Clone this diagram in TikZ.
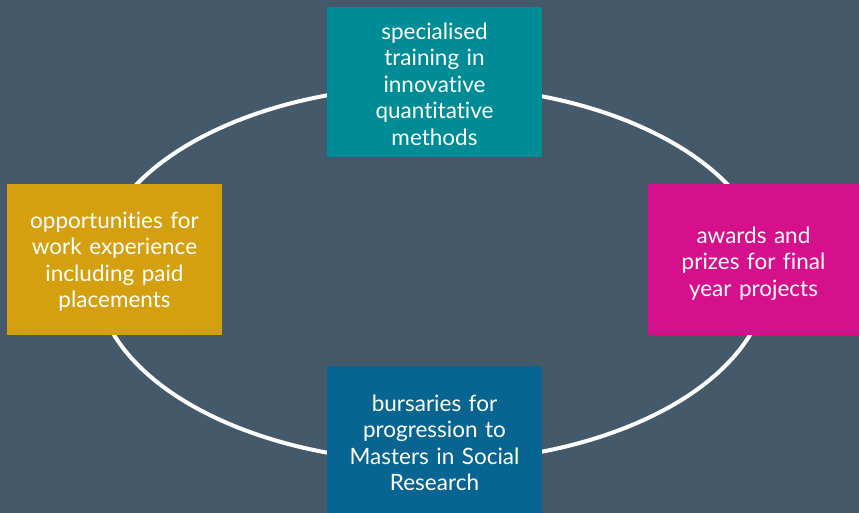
\documentclass[tikz,border=0pt]{standalone}
\usepackage{fontspec}
\setmainfont{Lato}[Ligatures={NoCommon}]
\definecolor{bg}{HTML}{445A6A}
\definecolor{cteal}{HTML}{008C96}
\definecolor{cgold}{HTML}{D5A010}
\definecolor{cmag}{HTML}{D60F8C}
\definecolor{cblue}{HTML}{086592}
\tikzset{
  card/.style={rectangle, minimum width=215pt, minimum height=150pt, inner sep=0pt},
  cardtext/.style={inner sep=0pt, text=white, align=center,
    font=\fontsize{22.5}{26.5}\selectfont, text width=210pt},
}
\begin{document}
\begin{tikzpicture}[x=1pt,y=-1pt]
\fill[bg] (0,0) rectangle (859,513);
\useasboundingbox (0,0) rectangle (859,513);
\draw[white, line width=4pt] (432,274) ellipse [x radius=336, y radius=188];
\node[card, fill=cteal] (top) at (434.5,82) {};
\node[card, fill=cgold] (left) at (114.5,259.5) {};
\node[card, fill=cmag, minimum width=212pt] (right) at (753.5,259.5) {};
\node[card, fill=cblue] (bottom) at (434.5,440.5) {};
\node[cardtext, yshift=-2pt] (toptext) at (top) {specialised\\training in\\innovative\\quantitative\\methods};
\node[cardtext, yshift=-2pt] (lefttext) at (left) {opportunities for\\work experience\\including paid\\placements};
\node[cardtext, yshift=-4pt] (righttext) at (right) {awards and\\prizes for final\\year projects};
\node[cardtext, yshift=-2.5pt] (bottomtext) at (bottom) {bursaries for\\progression to\\Masters in Social\\Research};
\end{tikzpicture}
\end{document}
